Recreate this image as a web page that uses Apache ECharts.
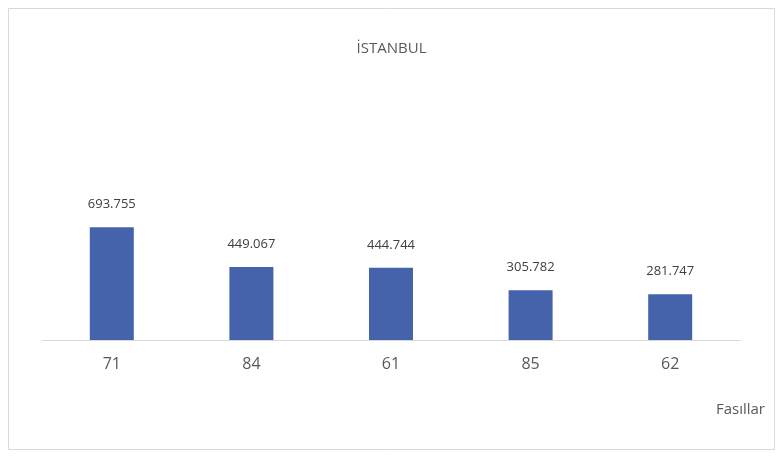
<!DOCTYPE html>
<html><head><meta charset="utf-8">
<script src="https://cdn.jsdelivr.net/npm/echarts@6/dist/echarts.min.js"></script>
<style>html,body{margin:0;padding:0;background:#fff}#c{width:783px;height:459px}</style>
</head><body><div id="c"></div>
<script>
const categories = ['71','84','61','85','62'];
const values = [693755, 449067, 444744, 305782, 281747];
const chart = echarts.init(document.getElementById('c'));
const fmt = v => String(v).replace(/\B(?=(\d{3})+(?!\d))/g, '.');
chart.setOption({
  animation:false,
  graphic:[{type:'rect',shape:{x:8.5,y:8.5,width:766,height:441},style:{fill:'none',stroke:'#d9d9d9',lineWidth:1}}],
  title:{text:'İSTANBUL',left:'center',top:36,textStyle:{fontFamily:'Open Sans',fontSize:15,fontWeight:'normal',color:'#595959'}},
  grid:{left:42,right:43,top:96,height:244},
  xAxis:{type:'category',data:categories,name:'Fasıllar',nameLocation:'end',nameGap:0,
    nameTextStyle:{fontFamily:'Open Sans',fontSize:15,color:'#595959',align:'right',verticalAlign:'top',padding:[62,-25,0,0]},
    axisLine:{lineStyle:{color:'#d9d9d9'}},axisTick:{show:false},
    axisLabel:{fontFamily:'Open Sans',fontSize:16,color:'#595959',margin:16}},
  yAxis:{type:'value',min:0,max:1500000,show:false,splitLine:{show:false}},
  series:[{type:'bar',data:values,barWidth:44,itemStyle:{color:'#4463ab'},
    label:{show:true,position:'top',distance:16,formatter:p=>fmt(p.value),fontFamily:'Open Sans',fontSize:13,color:'#404040'}}]
});
</script></body></html>
